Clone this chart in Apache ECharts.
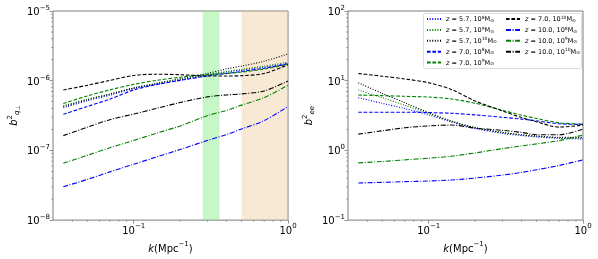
<!DOCTYPE html>
<html><head><meta charset="utf-8">
<script src="https://cdn.jsdelivr.net/npm/echarts@6/dist/echarts.min.js"></script>
<style>html,body{margin:0;padding:0;background:#fff}#c{width:598px;height:259px}</style>
</head><body><div id="c"></div>
<script>
// wavenumbers k (Mpc^-1)
const k = [0.035, 0.05, 0.07, 0.1, 0.14, 0.2, 0.3, 0.4, 0.5, 0.7, 1.0];

// left panel: b^2_{q_perp}
const perp_z57_m8  = [4.09e-7, 5.14e-7, 6.19e-7, 7.70e-7, 8.87e-7, 1.02e-6, 1.19e-6, 1.33e-6, 1.42e-6, 1.56e-6, 1.76e-6];
const perp_z57_m9  = [4.36e-7, 5.43e-7, 6.46e-7, 7.87e-7, 9.06e-7, 1.04e-6, 1.22e-6, 1.36e-6, 1.45e-6, 1.62e-6, 1.84e-6];
const perp_z57_m10 = [4.27e-7, 5.31e-7, 6.39e-7, 7.87e-7, 9.16e-7, 1.07e-6, 1.27e-6, 1.48e-6, 1.62e-6, 1.90e-6, 2.42e-6];
const perp_z70_m8  = [3.29e-7, 4.27e-7, 5.43e-7, 7.37e-7, 8.77e-7, 1.01e-6, 1.17e-6, 1.27e-6, 1.36e-6, 1.51e-6, 1.75e-6];
const perp_z70_m9  = [4.71e-7, 6.05e-7, 7.37e-7, 8.87e-7, 1.01e-6, 1.12e-6, 1.23e-6, 1.27e-6, 1.33e-6, 1.47e-6, 1.71e-6];
const perp_z70_m10 = [7.37e-7, 8.59e-7, 1.01e-6, 1.19e-6, 1.24e-6, 1.22e-6, 1.17e-6, 1.17e-6, 1.18e-6, 1.27e-6, 1.69e-6];
const perp_z10_m8  = [3.01e-8, 3.83e-8, 4.92e-8, 6.32e-8, 8.04e-8, 1.03e-7, 1.39e-7, 1.69e-7, 2.03e-7, 2.67e-7, 4.27e-7];
const perp_z10_m9  = [6.53e-8, 8.49e-8, 1.09e-7, 1.39e-7, 1.76e-7, 2.24e-7, 3.15e-7, 3.74e-7, 4.46e-7, 5.73e-7, 8.59e-7];
const perp_z10_m10 = [1.63e-7, 2.15e-7, 2.76e-7, 3.32e-7, 4.00e-7, 4.87e-7, 5.86e-7, 6.25e-7, 6.46e-7, 7.13e-7, 9.89e-7];

// right panel: b^2_{ee}
const ee_z57_m8  = [5.71, 4.74, 3.98, 3.23, 2.57, 2.07, 1.75, 1.63, 1.56, 1.49, 1.46];
const ee_z57_m9  = [7.34, 5.71, 4.44, 3.38, 2.63, 2.13, 1.81, 1.66, 1.59, 1.52, 1.49];
const ee_z57_m10 = [9.33, 6.58, 4.84, 3.49, 2.63, 2.11, 1.81, 1.68, 1.61, 1.54, 1.54];
const ee_z70_m8  = [3.53, 3.53, 3.53, 3.49, 3.41, 3.23, 2.99, 2.81, 2.66, 2.41, 2.36];
const ee_z70_m9  = [6.23, 6.10, 5.97, 5.83, 5.47, 4.75, 3.77, 3.20, 2.87, 2.49, 2.38];
const ee_z70_m10 = [12.7, 11.6, 10.6, 9.33, 7.50, 5.12, 3.69, 2.96, 2.57, 2.16, 2.31];
const ee_z10_m8  = [0.340, 0.348, 0.356, 0.364, 0.376, 0.401, 0.442, 0.483, 0.527, 0.608, 0.732];
const ee_z10_m9  = [0.663, 0.693, 0.732, 0.773, 0.825, 0.920, 1.06, 1.16, 1.24, 1.38, 1.66];
const ee_z10_m10 = [1.71, 1.91, 2.11, 2.25, 2.31, 2.09, 1.94, 1.81, 1.68, 1.68, 2.02];

// legend entries
const redshifts = ['5.7', '5.7', '5.7', '7.0', '7.0', '7.0', '10.0', '10.0', '10.0'];
const massExps  = ['8', '9', '10', '8', '9', '10', '8', '9', '10'];
const perpSets = [perp_z57_m8, perp_z57_m9, perp_z57_m10, perp_z70_m8, perp_z70_m9, perp_z70_m10, perp_z10_m8, perp_z10_m9, perp_z10_m10];
const eeSets   = [ee_z57_m8, ee_z57_m9, ee_z57_m10, ee_z70_m8, ee_z70_m9, ee_z70_m10, ee_z10_m8, ee_z10_m9, ee_z10_m10];

// shaded k-ranges in left panel
const greenBand = [0.28, 0.36];
const orangeBand = [0.5, 1.0];

// axis ranges and minor tick positions
const xRange = [0.03, 1];
const yRangePerp = [1e-8, 1e-5];
const yRangeEe = [0.1, 100];
const xMinorTicks = [0.04, 0.05, 0.06, 0.07, 0.08, 0.09, 0.2, 0.3, 0.4, 0.5, 0.6, 0.7, 0.8, 0.9];
const yMinorPerp = [2e-8, 3e-8, 4e-8, 5e-8, 6e-8, 7e-8, 8e-8, 9e-8, 2e-7, 3e-7, 4e-7, 5e-7, 6e-7, 7e-7, 8e-7, 9e-7, 2e-6, 3e-6, 4e-6, 5e-6, 6e-6, 7e-6, 8e-6, 9e-6];
const yMinorEe = [0.2, 0.3, 0.4, 0.5, 0.6, 0.7, 0.8, 0.9, 2, 3, 4, 5, 6, 7, 8, 9, 20, 30, 40, 50, 60, 70, 80, 90];

const colorByMass = { '8': '#0000ff', '9': '#008000', '10': '#000000' };
const dashByZ = { '5.7': [1, 1.6], '7.0': [3.6, 1.8], '10.0': [5, 1.6, 1, 1.6] };
const names = redshifts.map((z, i) => 'z = ' + z + ', 10^' + massExps[i] + ' Msun');

const FONT = 'DejaVu Sans';
const AX = '#7a7a7a';

function powLabel(v) {
  const e = Math.log10(v);
  const r = Math.round(e);
  if (Math.abs(e - r) > 1e-6) return '';
  return '{b|10}{s|' + (r < 0 ? '\u2212' + (-r) : r) + '}';
}
const tickRich = {
  b: { fontFamily: FONT, fontSize: 10, color: '#000', lineHeight: 13, verticalAlign: 'bottom' },
  s: { fontFamily: FONT, fontSize: 7, color: '#000', lineHeight: 13, verticalAlign: 'top' }
};

const grids = [
  { left: 53, top: 11, width: 235, height: 211, show: true, borderColor: AX, borderWidth: 1 },
  { left: 348, top: 11, width: 235, height: 211, show: true, borderColor: AX, borderWidth: 1 }
];

function xAxisFor(gi) {
  return {
    type: 'log', gridIndex: gi, min: xRange[0], max: xRange[1], logBase: 10,
    axisLine: { show: false },
    axisTick: { show: true, length: 3.5, lineStyle: { color: AX, width: 0.8 } },
    splitLine: { show: false },
    axisLabel: { formatter: powLabel, rich: tickRich, margin: 3, showMinLabel: false },
    name: '{i|k}{t|(Mpc}{s|\u22121}{t|)}', nameLocation: 'middle', nameGap: 16,
    nameTextStyle: {
      rich: {
        i: { fontFamily: FONT, fontStyle: 'italic', fontSize: 10, lineHeight: 13, verticalAlign: 'bottom', color: '#000' },
        t: { fontFamily: FONT, fontSize: 10, lineHeight: 13, verticalAlign: 'bottom', color: '#000' },
        s: { fontFamily: FONT, fontSize: 7, lineHeight: 13, verticalAlign: 'top', color: '#000' }
      }
    }
  };
}
function yAxisFor(gi, range, nameStr) {
  return {
    type: 'log', gridIndex: gi, min: range[0], max: range[1], logBase: 10,
    axisLine: { show: false },
    axisTick: { show: true, length: 3.5, lineStyle: { color: AX, width: 0.8 } },
    splitLine: { show: false },
    axisLabel: { formatter: powLabel, rich: tickRich, margin: 3 },
    name: nameStr, nameLocation: 'middle', nameGap: 32, nameRotate: 90,
    nameTextStyle: {
      rich: {
        i: { fontFamily: FONT, fontStyle: 'italic', fontSize: 10, lineHeight: 14, verticalAlign: 'middle', color: '#000' },
        s: { fontFamily: FONT, fontSize: 7, lineHeight: 14, verticalAlign: 'top', color: '#000' },
        u: { fontFamily: FONT, fontStyle: 'italic', fontSize: 7, lineHeight: 14, verticalAlign: 'bottom', color: '#000' },
        p: { fontFamily: FONT, fontSize: 6, lineHeight: 14, verticalAlign: 'bottom', color: '#000' }
      }
    }
  };
}

const series = [];
// shaded bands
series.push({
  type: 'line', xAxisIndex: 0, yAxisIndex: 0, data: [], z: 1, silent: true,
  markArea: {
    silent: true,
    data: [
      [{ xAxis: greenBand[0], itemStyle: { color: 'rgba(144,238,144,0.5)' } }, { xAxis: greenBand[1] }],
      [{ xAxis: orangeBand[0], itemStyle: { color: 'rgba(238,200,150,0.4)' } }, { xAxis: orangeBand[1] }]
    ]
  }
});
names.forEach((nm, i) => {
  const col = colorByMass[massExps[i]];
  const dash = dashByZ[redshifts[i]];
  [[0, perpSets[i]], [1, eeSets[i]]].forEach(([gi, arr]) => {
    series.push({
      name: nm, type: 'line', xAxisIndex: gi, yAxisIndex: gi, z: 3,
      data: k.map((x, j) => [x, arr[j]]),
      symbol: 'none', smooth: 0.3,
      lineStyle: { color: col, width: 1.1, type: dash },
      itemStyle: { color: col }
    });
  });
});
// minor ticks (matplotlib-style log minor ticks)
function tickSeries(gi, data, size, offset) {
  return {
    type: 'scatter', xAxisIndex: gi, yAxisIndex: gi, data: data, silent: true, clip: false,
    symbol: 'rect', symbolSize: size, symbolOffset: offset, z: 5,
    itemStyle: { color: AX }, tooltip: { show: false }
  };
}
series.push(tickSeries(0, xMinorTicks.map(v => [v, yRangePerp[0]]), [0.8, 2], [0, 1]));
series.push(tickSeries(1, xMinorTicks.map(v => [v, yRangeEe[0]]), [0.8, 2], [0, 1]));
series.push(tickSeries(0, yMinorPerp.map(v => [xRange[0], v]), [2, 0.8], [-1, 0]));
series.push(tickSeries(1, yMinorEe.map(v => [xRange[0], v]), [2, 0.8], [-1, 0]));

function legendFmt(name) {
  const i = names.indexOf(name);
  return '{i|z}{t| = ' + redshifts[i] + ', 10}{s|' + massExps[i] + '}{t|M}{u|\u2299}';
}
const legendRich = {
  i: { fontFamily: FONT, fontStyle: 'italic', fontSize: 6.5, lineHeight: 8, verticalAlign: 'bottom', color: '#000' },
  t: { fontFamily: FONT, fontSize: 6.5, lineHeight: 8, verticalAlign: 'bottom', color: '#000' },
  s: { fontFamily: FONT, fontSize: 4.5, lineHeight: 8, verticalAlign: 'top', color: '#000' },
  u: { fontFamily: FONT, fontSize: 4.5, lineHeight: 8, verticalAlign: 'bottom', color: '#000' }
};
function legendFor(list, left) {
  return {
    data: list, left: left, top: 15, orient: 'vertical', itemWidth: 14, itemHeight: 6,
    itemGap: 2.9, formatter: legendFmt, textStyle: { rich: legendRich }, selectedMode: false,
    padding: 0, z: 10,
    itemStyle: { opacity: 0 }
  };
}

const chart = echarts.init(document.getElementById('c'), null, { renderer: 'canvas' });
chart.setOption({
  animation: false,
  backgroundColor: '#fff',
  grid: grids,
  xAxis: [xAxisFor(0), xAxisFor(1)],
  yAxis: [
    yAxisFor(0, yRangePerp, '{i|b}{s|2}{u|q}{p|\u22a5}'),
    yAxisFor(1, yRangeEe, '{i|b}{s|2}{u|ee}')
  ],
  legend: [legendFor(names.slice(0, 5), 426), legendFor(names.slice(5), 505)],
  graphic: [{
    type: 'rect', left: 423, top: 13, z: 6, silent: true,
    shape: { width: 158, height: 55, r: 2 },
    style: { fill: 'rgba(255,255,255,0.8)', stroke: '#d0d0d0', lineWidth: 0.8 }
  }],
  series: series
});
</script>
</body></html>
